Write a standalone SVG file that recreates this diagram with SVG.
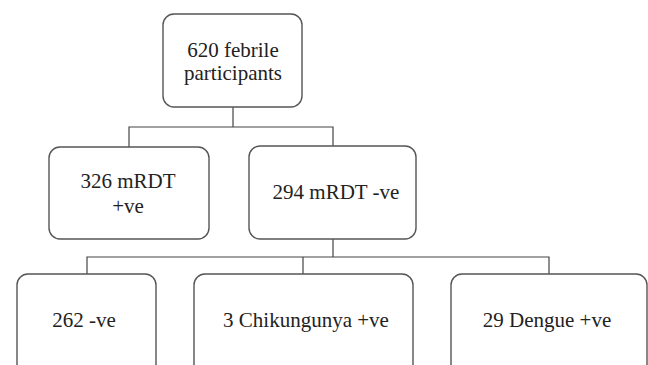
<svg xmlns="http://www.w3.org/2000/svg" width="648" height="365" viewBox="0 0 648 365">
<style>
.box{fill:#fff;stroke:#555;stroke-width:1.4}
.t{font-size:21px;fill:#222;text-anchor:middle}
.c{fill:none;stroke:#444;stroke-width:1.2}
</style>
<rect width="648" height="365" fill="#fff"/>
<g id="connectors">
<path class="c" d="M233 107V127M129 147V127H333V146"/>
<path class="c" d="M333 239V257M87 274V257H549V274M303 257V274"/>
</g>
<g font-family="Liberation Serif, DejaVu Serif, serif">
<g id="n0"><rect class="box" x="163" y="14" width="139" height="93" rx="11"/>
<text class="t" x="233" y="57">620 febrile</text><text class="t" x="233" y="80">participants</text></g>
<g id="n1"><rect class="box" x="49" y="147" width="160" height="92" rx="11"/>
<text class="t" x="128" y="188">326 mRDT</text><text class="t" x="128" y="213">+ve</text></g>
<g id="n2"><rect class="box" x="249" y="146" width="167" height="93" rx="11"/>
<text class="t" x="336" y="199">294 mRDT -ve</text></g>
<g id="n3"><rect class="box" x="17" y="274" width="139" height="110" rx="11"/>
<text class="t" x="84" y="327">262 -ve</text></g>
<g id="n4"><rect class="box" x="194" y="274" width="219" height="110" rx="11"/>
<text class="t" x="306" y="327">3 Chikungunya +ve</text></g>
<g id="n5"><rect class="box" x="451" y="274" width="196" height="110" rx="11"/>
<text class="t" x="547" y="327">29 Dengue +ve</text></g>
</g>
</svg>
